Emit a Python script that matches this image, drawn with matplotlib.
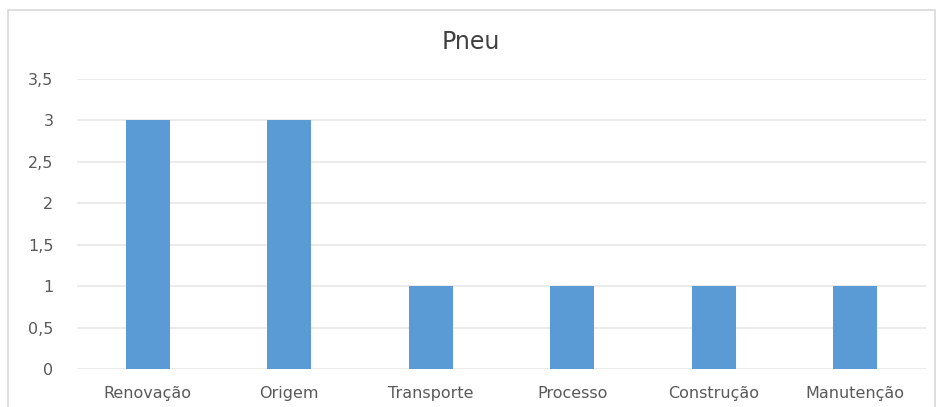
import matplotlib

matplotlib.use("Agg")
import matplotlib.pyplot as plt
from matplotlib.patches import Rectangle

categories = ["Renovação", "Origem", "Transporte", "Processo", "Construção", "Manutenção"]
values = [3, 3, 1, 1, 1, 1]
y_ticks = [0, 0.5, 1, 1.5, 2, 2.5, 3, 3.5]

BAR = "#5B9BD5"
GRID = "#E8E8E8"
TEXT = "#595959"
BORDER = "#D9D9D9"

plt.rcParams["font.family"] = ["DejaVu Sans"]

fig = plt.figure(figsize=(9.42, 4.07), dpi=100)
fig.patch.set_facecolor("white")

# chart-area frame, runs off the bottom like the screenshot
fig.patches.append(Rectangle((8 / 942, -0.05), 927 / 942, 1.05 - 10 / 407,
                             transform=fig.transFigure, fill=False,
                             edgecolor=BORDER, lw=1.2))

ax = fig.add_axes([77 / 942, 1 - 369 / 407, 849 / 942, 290 / 407])
x = range(len(categories))
ax.bar(x, values, width=0.31, color=BAR, zorder=3)

ax.set_xlim(-0.5, len(categories) - 0.5)
ax.set_ylim(0, 3.5)
ax.set_yticks(y_ticks)
ax.set_yticklabels([f"{t:g}".replace(".", ",") for t in y_ticks])
ax.set_xticks(list(x))
ax.set_xticklabels(categories)

ax.yaxis.grid(True, color=GRID, lw=1.2, zorder=0)
ax.xaxis.grid(False)
for spine in ax.spines.values():
    spine.set_visible(False)
ax.tick_params(length=0, colors=TEXT, labelsize=11.5)
ax.tick_params(axis="y", pad=17)
ax.tick_params(axis="x", pad=12)

fig.text(0.5, 1 - 42 / 407, "Pneu", ha="center", va="center", fontsize=17, color="#404040")

fig.savefig("out.png", dpi=100, facecolor="white")
